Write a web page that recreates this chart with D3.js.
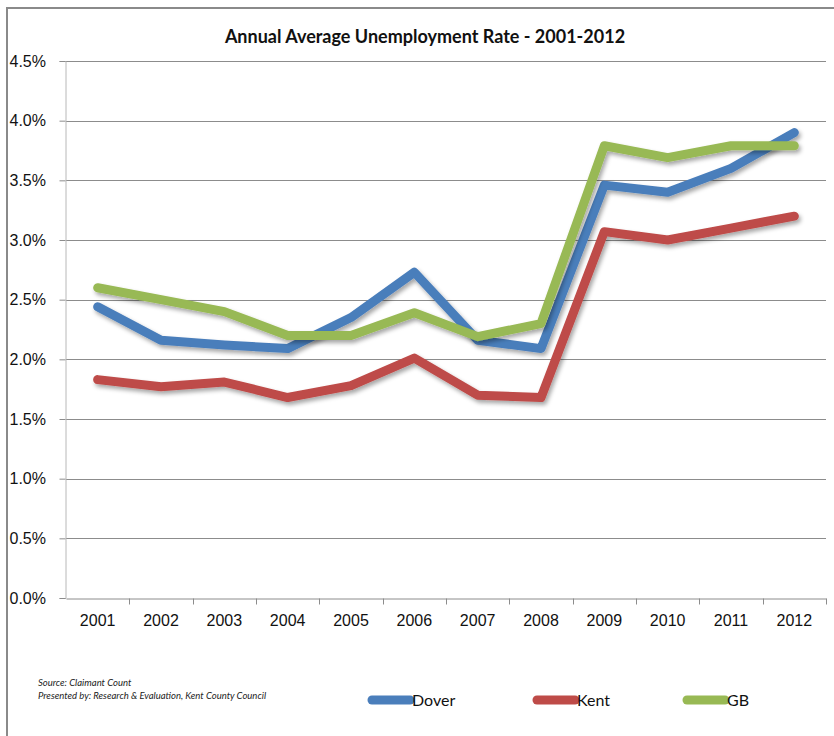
<!DOCTYPE html>
<html>
<head>
<meta charset="utf-8">
<script src="https://cdn.jsdelivr.net/npm/d3@7"></script>
<style>
  body { margin: 0; background: #fff; }
  svg { display: block; font-family: Lato, "Open Sans", sans-serif; }
</style>
</head>
<body>
<div id="chart"></div>
<script>
// data
const years = ["2001","2002","2003","2004","2005","2006","2007","2008","2009","2010","2011","2012"];
const dover = [2.44, 2.16, 2.12, 2.09, 2.35, 2.73, 2.16, 2.09, 3.46, 3.40, 3.60, 3.90];
const kent  = [1.83, 1.77, 1.81, 1.68, 1.78, 2.01, 1.70, 1.68, 3.07, 3.00, 3.10, 3.20];
const gb    = [2.60, 2.50, 2.40, 2.20, 2.20, 2.39, 2.19, 2.30, 3.79, 3.69, 3.79, 3.79];
const yTicks = [0, 0.5, 1, 1.5, 2, 2.5, 3, 3.5, 4, 4.5];

const series = [
  {name: "Dover", values: dover, color: "#4a7ebb"},
  {name: "Kent",  values: kent,  color: "#be4b48"},
  {name: "GB",    values: gb,    color: "#98b954"}
];

const width = 834, height = 736;
const margin = {top: 61, right: 8, bottom: 138, left: 66};

const svg = d3.select("#chart").append("svg")
    .attr("width", width)
    .attr("height", height);

const defs = svg.append("defs");
const shadow = defs.append("filter")
    .attr("id", "shadow")
    .attr("x", "-10%").attr("y", "-10%")
    .attr("width", "120%").attr("height", "130%");
shadow.append("feDropShadow")
    .attr("dx", 2).attr("dy", 3)
    .attr("stdDeviation", 2)
    .attr("flood-color", "#000")
    .attr("flood-opacity", 0.35);

// outer frame (left + top edges visible in the reference)
svg.append("path")
    .attr("d", `M7,${height} L7,8 L${width},8`)
    .attr("fill", "none")
    .attr("stroke", "#8a8a8a")
    .attr("stroke-width", 2);

const x = d3.scaleBand()
    .domain(years)
    .range([margin.left, width - margin.right]);

const y = d3.scaleLinear()
    .domain([0, 4.5])
    .range([height - margin.bottom, margin.top]);

// gridlines
svg.append("g")
  .selectAll("line")
  .data(yTicks.filter(d => d > 0))
  .join("line")
    .attr("x1", margin.left)
    .attr("x2", width - margin.right)
    .attr("y1", d => Math.round(y(d)) + 0.5)
    .attr("y2", d => Math.round(y(d)) + 0.5)
    .attr("stroke", "#8c8c8c")
    .attr("stroke-width", 1);

// y axis
const yAxis = svg.append("g")
    .attr("transform", `translate(${margin.left - 0.5},0)`)
    .call(d3.axisLeft(y).tickValues(yTicks).tickSize(6).tickPadding(14)
      .tickFormat(d => d.toFixed(1) + "%"));
yAxis.select(".domain").attr("stroke", "#b8b8b8");
yAxis.selectAll(".tick line").attr("stroke", "#8c8c8c");
yAxis.selectAll("text")
    .attr("text-anchor", "start")
    .attr("x", 10 - margin.left)
    .style("font-size", "16px")
    .attr("fill", "#111");

// x axis
const xAxis = svg.append("g")
    .attr("transform", `translate(0,${Math.round(y(0)) + 0.5})`)
    .call(d3.axisBottom(x).tickSize(0).tickPadding(16));
xAxis.select(".domain").attr("stroke", "#8c8c8c");
xAxis.selectAll("text")
    .style("font-size", "16px")
    .attr("fill", "#111");
// category separators
xAxis.append("g")
  .selectAll("line")
  .data(years.slice(1).concat(["end"]))
  .join("line")
    .attr("x1", (d, i) => Math.round(x(years[0]) + x.step() * (i + 1)) + 0.5)
    .attr("x2", (d, i) => Math.round(x(years[0]) + x.step() * (i + 1)) + 0.5)
    .attr("y1", 0)
    .attr("y2", 6)
    .attr("stroke", "#8c8c8c");

// lines
const line = d3.line()
    .x((d, i) => x(years[i]) + x.bandwidth() / 2)
    .y(d => y(d));

svg.append("g")
  .selectAll("path")
  .data(series)
  .join("path")
    .attr("d", d => line(d.values))
    .attr("fill", "none")
    .attr("stroke", d => d.color)
    .attr("stroke-width", 9)
    .attr("stroke-linejoin", "round")
    .attr("stroke-linecap", "round")
    .attr("filter", "url(#shadow)");

// title
svg.append("text")
    .attr("x", 425)
    .attr("y", 43)
    .attr("text-anchor", "middle")
    .style("font-size", "18px")
    .style("font-weight", "bold")
    .attr("fill", "#111")
    .text("Annual Average Unemployment Rate - 2001-2012");

// source notes
const notes = ["Source: Claimant Count", "Presented by: Research & Evaluation, Kent County Council"];
svg.append("g")
  .selectAll("text")
  .data(notes)
  .join("text")
    .attr("x", 38)
    .attr("y", (d, i) => 686 + i * 13)
    .style("font-size", "9.5px")
    .style("font-style", "italic")
    .attr("fill", "#222")
    .text(d => d);

// legend
const legendX = [372, 537, 687];
const legend = svg.append("g")
  .selectAll("g")
  .data(series)
  .join("g")
    .attr("transform", (d, i) => `translate(${legendX[i]},700)`);
legend.append("line")
    .attr("x1", 0).attr("x2", 38)
    .attr("stroke", d => d.color)
    .attr("stroke-width", 9)
    .attr("stroke-linecap", "round");
legend.append("text")
    .attr("x", 40)
    .attr("y", 6)
    .style("font-size", "16px")
    .attr("fill", "#111")
    .text(d => d.name);
</script>
</body>
</html>
